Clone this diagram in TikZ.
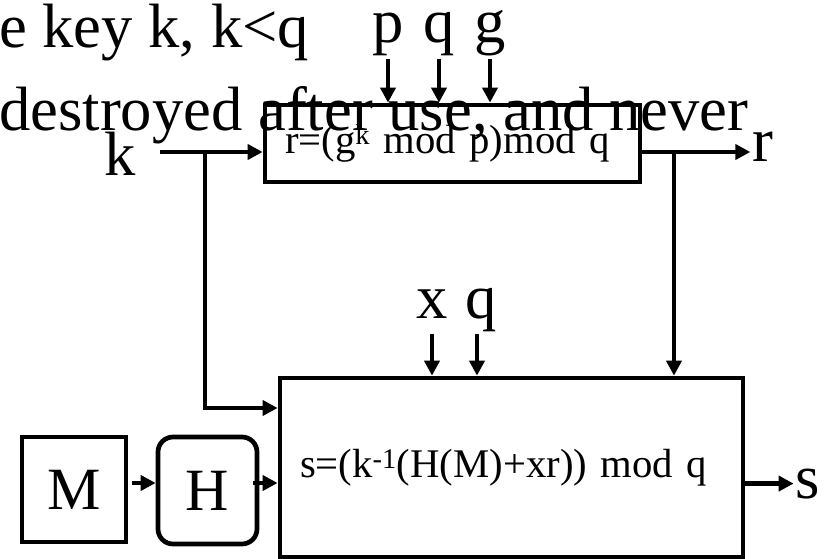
\documentclass[tikz,border=0pt]{standalone}
\usepackage{fontspec}
\setmainfont{Liberation Serif}
\usetikzlibrary{arrows.meta}
\begin{document}
\begin{tikzpicture}[x=1pt,y=-1pt,
  big/.style={font=\fontsize{62.6}{70}\selectfont, inner sep=2pt},
  boxtxt/.style={font=\fontsize{40.7}{46}\selectfont},
  blk/.style={draw, line width=4.7pt},
  arr/.style={line width=4.7pt, -{Triangle[length=15pt,width=15pt]}},
]
\useasboundingbox (0,0) rectangle (831,559);
\clip (0,0) rectangle (831,559);
\fill[white] (0,0) rectangle (831,559);

% background text lines
\node[big, anchor=base west, inner sep=0] (l1) at (-1,48) {e key k, k<q};
\node[big, anchor=base west, inner sep=0] (l2) at (-1,131) {destroyed after use, and never};

% boxes
\node[blk, boxtxt, minimum width=375pt, minimum height=77pt, text width=335pt,
      align=left, inner xsep=20pt, inner ysep=0pt] (tbox) at (452.5,143.5)
      {r=(g\textsuperscript{k} mod p)mod q};
\node[blk, boxtxt, minimum height=179pt, text width=423pt,
      align=left, inner xsep=20pt, inner ysep=0pt] (sbox) at (511.5,467.5)
      {s=(k\textsuperscript{-1}(H(M)+xr)) mod q};
\node[blk, font=\fontsize{60}{60}\selectfont, minimum width=104pt,
      minimum height=105pt, inner sep=0pt] (M) at (74,489.5) {M};
\node[blk, rounded corners=15pt, font=\fontsize{60}{60}\selectfont, minimum width=99pt,
      minimum height=107pt, inner sep=0pt] (H) at (207.5,490.5) {H};

% labels
\node[big, anchor=base] (p) at (388,43) {p};
\node[big, anchor=base] (q1) at (439,43) {q};
\node[big, anchor=base] (g) at (490,43) {g};
\node[big, anchor=base] (k) at (120,176) {k};
\node[big, anchor=base] (r) at (763,162) {r};
\node[big, anchor=base] (x) at (432,318) {x};
\node[big, anchor=base] (q2) at (481,318) {q};
\node[big, anchor=base] (s) at (808,498) {s};

% junction coordinates
\coordinate (kin) at (160,152);
\coordinate (kj) at (205,152);
\coordinate (kl) at (205,408);
\coordinate (rj) at (674,152);
\coordinate (hy) at (140,483);

% connectors
\draw[arr] (p.south) -- (p.south |- tbox.north);
\draw[arr] (q1.south) -- (q1.south |- tbox.north);
\draw[arr] (g.south) -- (g.south |- tbox.north);
\draw[arr] (kin) -- (kin -| tbox.west);
\draw[arr] (kin -| tbox.east) -- (kin -| r.west);
\draw[arr] (kj) -- (kl) -- (kl -| sbox.west);
\draw[arr] (rj) -- (rj |- sbox.north);
\draw[arr] (x.south |- q2.south) -- (x.south |- sbox.north);
\draw[arr] ([xshift=-4pt]q2.south) -- ([xshift=-4pt]q2.south |- sbox.north);
\draw[arr, shorten <=4pt] (M.east |- hy) -- (H.west |- hy);
\draw[arr, shorten <=-6pt] (H.east |- hy) -- (sbox.west |- hy);
\draw[arr] (sbox.east |- s) -- (s.west);
\end{tikzpicture}
\end{document}
